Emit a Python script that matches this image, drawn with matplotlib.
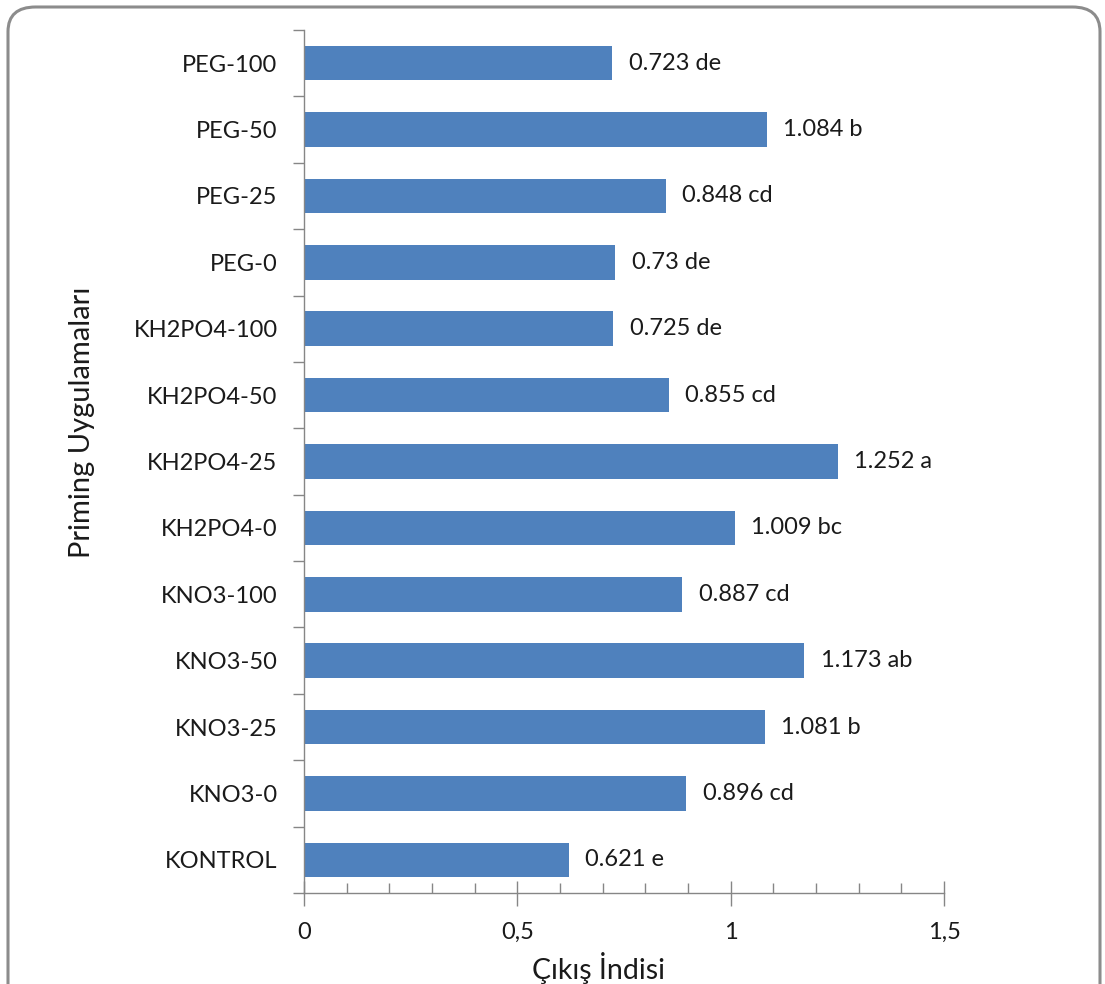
import matplotlib
matplotlib.use('Agg')
import matplotlib.pyplot as plt
from matplotlib.patches import FancyBboxPatch
from matplotlib.ticker import MultipleLocator, FixedLocator, NullFormatter
import numpy as np

plt.rcParams['font.family'] = ['Lato', 'DejaVu Sans']

categories = ['KONTROL', 'KNO3-0', 'KNO3-25', 'KNO3-50', 'KNO3-100',
              'KH2PO4-0', 'KH2PO4-25', 'KH2PO4-50', 'KH2PO4-100',
              'PEG-0', 'PEG-25', 'PEG-50', 'PEG-100']
values = [0.621, 0.896, 1.081, 1.173, 0.887,
          1.009, 1.252, 0.855, 0.725,
          0.73, 0.848, 1.084, 0.723]
letters = ['e', 'cd', 'b', 'ab', 'cd',
           'bc', 'a', 'cd', 'de',
           'de', 'cd', 'b', 'de']

bar_color = '#4F81BD'
axis_color = '#868686'
text_color = '#1a1a1a'

fig = plt.figure(figsize=(11.05, 9.84), dpi=100)
ax = fig.add_axes([0.2751, 0.0925, 0.5792, 0.877])

# rounded outer frame
frame = FancyBboxPatch((8 / 1105, -0.05), 1092 / 1105, 1.0 - 7 / 984 + 0.05,
                       boxstyle='round,pad=0,rounding_size=0.025',
                       transform=fig.transFigure, facecolor='none',
                       edgecolor='#8c8c8c', linewidth=2.2, zorder=0)
fig.patches.append(frame)

y = np.arange(len(categories))
ax.barh(y, values, height=0.52, color=bar_color, zorder=2)

for yi, v, l in zip(y, values, letters):
    ax.text(v + 0.038, yi, f'{v:g} {l}', va='center', ha='left',
            fontsize=17, color=text_color)

ax.set_xlim(0, 1.5)
ax.set_ylim(-0.5, len(categories) - 0.5)

ax.xaxis.set_minor_locator(MultipleLocator(0.1))
ax.set_xticks([0, 0.5, 1, 1.5])
ax.set_xticklabels(['0', '0,5', '1', '1,5'])
ax.tick_params(axis='x', which='major', direction='inout', length=18,
               width=1, color=axis_color, labelsize=17, labelcolor=text_color, pad=12)
ax.tick_params(axis='x', which='minor', direction='in', length=7,
               width=1, color=axis_color)

ax.set_yticks(y)
ax.set_yticklabels(categories)
ax.yaxis.set_minor_locator(FixedLocator(np.arange(-0.5, len(categories), 1)))
ax.yaxis.set_minor_formatter(NullFormatter())
ax.tick_params(axis='y', which='major', length=0, labelsize=17,
               labelcolor=text_color, pad=19)
ax.tick_params(axis='y', which='minor', direction='out', length=8,
               width=1, color=axis_color)

for side in ['top', 'right']:
    ax.spines[side].set_visible(False)
for side in ['left', 'bottom']:
    ax.spines[side].set_color(axis_color)
    ax.spines[side].set_linewidth(1)

fig.text(599 / 1105, 1 - 968 / 984, 'Çıkış İndisi', ha='center', va='center',
         fontsize=20.5, color=text_color)
fig.text(82 / 1105, 1 - 422 / 984, 'Priming Uygulamaları', ha='center', va='center',
         rotation=90, fontsize=21, color=text_color)

fig.savefig('out.png', dpi=100)
